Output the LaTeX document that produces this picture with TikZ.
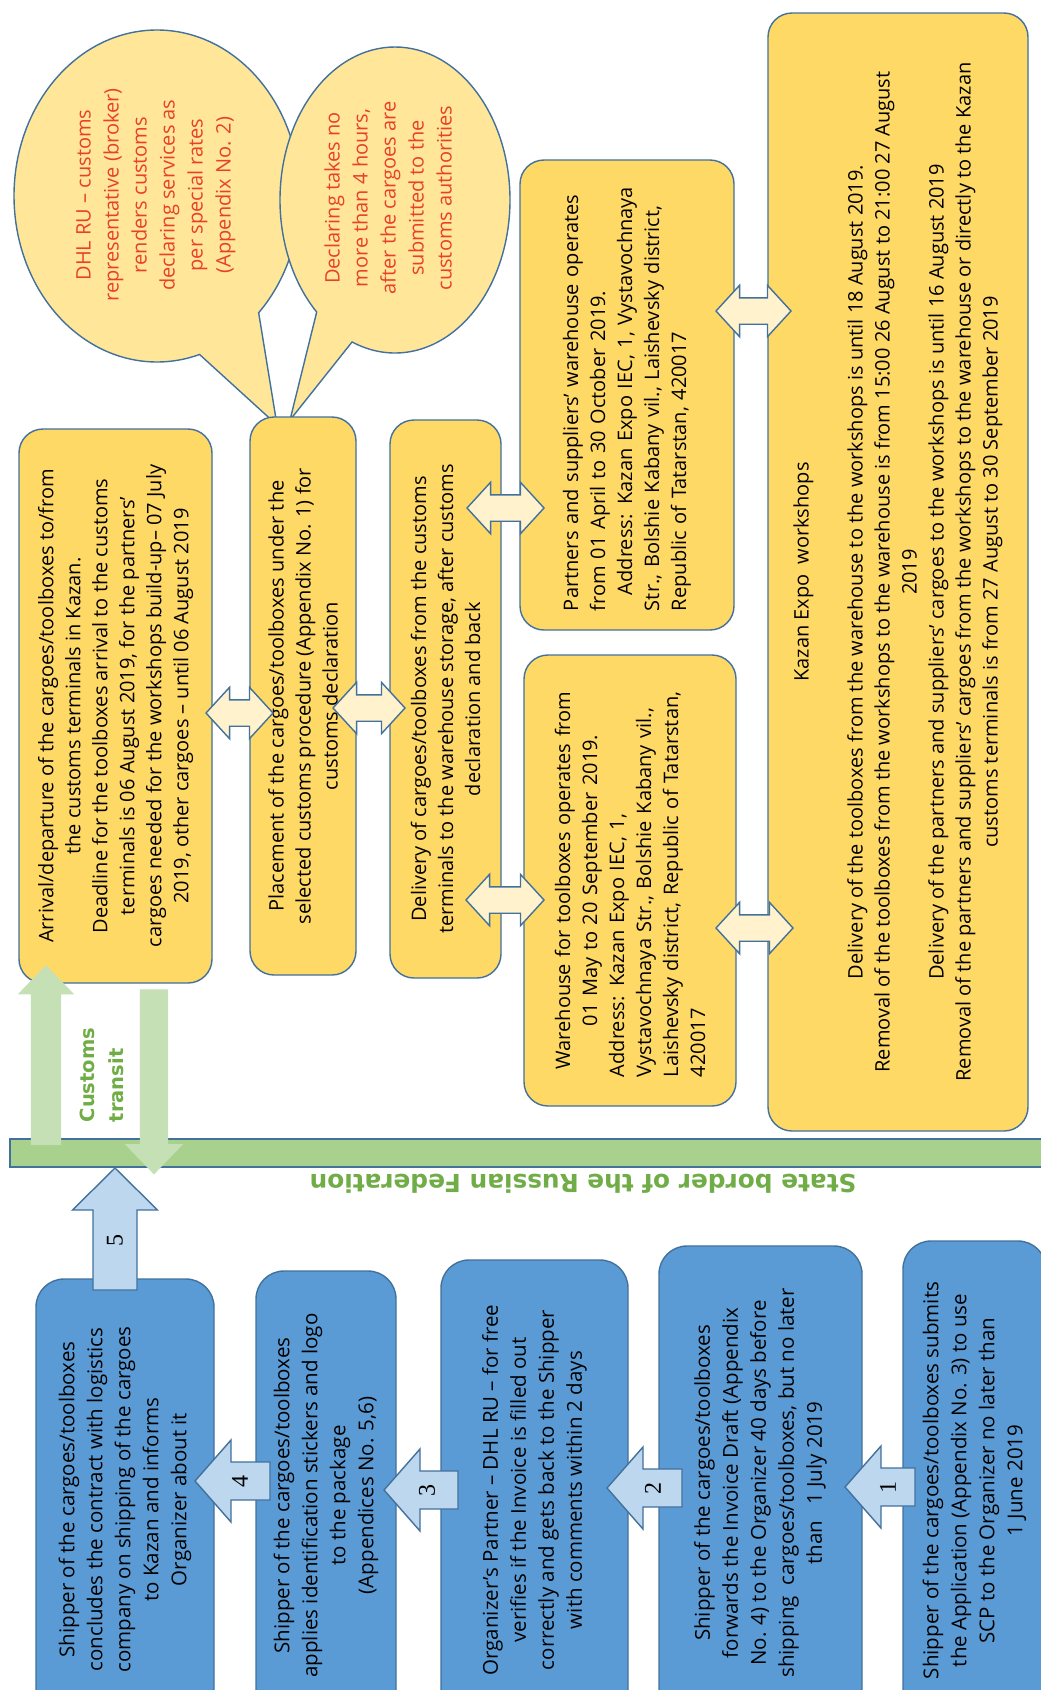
\documentclass[tikz,border=0pt]{standalone}
\usepackage{fontspec}
\setmainfont{Open Sans}
\newfontfamily\numfont{Liberation Serif}
\newfontfamily\greenfont{DejaVu Sans}
\usetikzlibrary{shapes.arrows,shapes.callouts,calc}

\definecolor{boxyellow}{HTML}{FFD966}
\definecolor{callyellow}{HTML}{FFE699}
\definecolor{paleyellow}{HTML}{FFF2CC}
\definecolor{edgeblue}{HTML}{41719C}
\definecolor{boxblue}{HTML}{5B9BD5}
\definecolor{paleblue}{HTML}{BDD7EE}
\definecolor{bordergreen}{HTML}{A9D18E}
\definecolor{transitgreen}{HTML}{C5E0B4}
\definecolor{textgreen}{HTML}{70AD47}
\definecolor{notered}{HTML}{E8402A}

\begin{document}
\begin{tikzpicture}[x=1pt, y=-1pt,
    ybox/.style={draw=edgeblue, fill=boxyellow, line width=1.4pt, rounded corners=24pt,
                 rotate=90, align=center, inner sep=0pt, font=\fontsize{20}{27}\selectfont},
    bbox/.style={draw=edgeblue, fill=boxblue, line width=1.4pt, rounded corners=28pt,
                 rotate=90, align=center, inner sep=0pt, font=\fontsize{20.5}{28}\selectfont},
    link/.style={double arrow, draw=edgeblue, fill=paleyellow, line width=1.4pt,
                 inner xsep=0pt, inner ysep=12.5pt, double arrow head extend=12.5pt,
                 double arrow tip angle=95},
    stepshape/.style={draw=edgeblue, fill=paleblue, line width=1.4pt, line join=miter},
    steplbl/.style={rotate=90, inner sep=0pt, font=\numfont\fontsize{24}{24}\selectfont},
    balloon/.style={ellipse callout, draw=edgeblue, fill=callyellow, line width=1.4pt, inner sep=0pt},
    note/.style={rotate=90, align=center, text=notered, font=\fontsize{20}{28}\selectfont},
    transit/.style={single arrow, fill=transitgreen, inner xsep=0pt, single arrow tip angle=88}]

\useasboundingbox (0,0) rectangle (1041,1690);
\clip (0,0) rectangle (1041,1690);
\fill[white] (0,0) rectangle (1041,1690);

% speech balloons
\node[balloon, minimum width=286pt, minimum height=332pt,
      callout absolute pointer={(277,425)}, callout pointer arc=28] (broker) at (157,196) {};
\node[balloon, minimum width=230pt, minimum height=306pt,
      callout absolute pointer={(290,420)}, callout pointer arc=21] (hours) at (395,200) {};
\node[note] (brokertxt) at (156,195) {DHL RU – customs\\representative (broker)\\renders customs\\declaring services as\\per special rates\\(Appendix No. 2)};
\node[note] (hourstxt) at (388,198) {Declaring takes no\\more than 4 hours,\\after the cargoes are\\submitted to the\\customs authorities};

% Kazan side
\node[ybox, minimum width=554pt, minimum height=193pt] (arrival) at (115.5,706)
  {Arrival/departure of the cargoes/toolboxes to/from\\the customs terminals in Kazan.\\Deadline for the toolboxes arrival to the customs\\terminals is 06 August 2019, for the partners'\\cargoes needed for the workshops build-up– 07 July\\2019, other cargoes – until 06 August 2019};
\node[ybox, minimum width=558pt, minimum height=106pt] (placement) at (303,696)
  {Placement of the cargoes/toolboxes under the\\selected customs procedure (Appendix No. 1) for\\customs declaration};
\node[ybox, minimum width=558pt, minimum height=111pt] (delivery) at (445.5,699)
  {Delivery of cargoes/toolboxes from the customs\\terminals to the warehouse storage, after customs\\declaration and back};
\node[ybox, minimum width=470pt, minimum height=214pt, align=left, text width=432pt] (partnerwh) at (627,395)
  {Partners and suppliers' warehouse operates\\from 01 April to 30 October 2019.\\\hspace*{16pt}\makebox[416pt][s]{Address: Kazan Expo IEC, 1, Vystavochnaya}\\\makebox[\hsize][s]{Str., Bolshie Kabany vil., Laishevsky district,}\\Republic of Tatarstan, 420017};
\node[ybox, minimum width=451pt, minimum height=212pt, text width=393pt] (toolwh) at (630,880.5)
  {Warehouse for toolboxes operates from\\01 May to 20 September 2019.\\\makebox[\hsize][s]{Address: Kazan Expo IEC, 1,}\\\makebox[\hsize][s]{Vystavochnaya Str., Bolshie Kabany vil.,}\\\makebox[\hsize][s]{Laishevsky district, Republic of Tatarstan,}\\\makebox[\hsize][l]{420017}};
\node[ybox, minimum width=1118pt, minimum height=260pt] (workshops) at (898,572)
  {Kazan Expo\enspace workshops\\[27pt]Delivery of the toolboxes from the warehouse to the workshops is until 18 August 2019.\\Removal of the toolboxes from the workshops to the warehouse is from 15:00 26 August to 21:00 27 August\\2019\\Delivery of the partners and suppliers' cargoes to the workshops is until 16 August 2019\\Removal of the partners and suppliers' cargoes from the workshops to the warehouse or directly to the Kazan\\customs terminals is from 27 August to 30 September 2019};

\node[link, minimum height=67pt] (l1) at (239.5,713) {};
\node[link, minimum height=72pt] (l2) at (369,708) {};
\node[link, minimum height=77pt] (l3) at (505.5,508) {};
\node[link, minimum height=78pt] (l4) at (505,900) {};
\node[link, minimum height=75pt] (l5) at (753.5,311) {};
\node[link, minimum height=77pt] (l6) at (754.5,928) {};

% the border
\node[draw=edgeblue, fill=bordergreen, line width=1.4pt, minimum width=1040pt,
      minimum height=28pt, inner sep=0pt] (border) at (530,1153) {};
\node[rotate=180, text=textgreen, font=\greenfont\bfseries\fontsize{24.8}{24.8}\selectfont] (borderlbl) at (583,1184)
  {State border of the Russian Federation};
\node[transit, rotate=90, minimum height=180pt, inner ysep=15pt, single arrow head extend=13pt] (transitin) at (46,1063) {};
\node[transit, rotate=-90, minimum height=185pt, inner ysep=14pt, single arrow head extend=15pt] (transitout) at (154,1074.5) {};
\node[rotate=90, align=left, text=textgreen, font=\greenfont\bfseries\fontsize{19.5}{29}\selectfont] (transitlbl) at (102,1075)
  {Customs\\transit};

% shipper side
\node[bbox, minimum width=441pt, minimum height=178pt] (contract) at (125,1499.5)
  {Shipper of the cargoes/toolboxes\\concludes the contract with logistics\\company on shipping of the cargoes\\to Kazan and informs\\Organizer about it};
\node[bbox, minimum width=449pt, minimum height=140pt] (stickers) at (326,1495.5)
  {Shipper of the cargoes/toolboxes\\applies identification stickers and logo\\to the package\\(Appendices No. 5,6)};
\node[bbox, minimum width=460pt, minimum height=187pt] (verify) at (534.5,1490)
  {Organizer's Partner – DHL RU – for free\\verifies if the Invoice is filled out\\correctly and gets back to the Shipper\\with comments within 2 days};
\node[bbox, minimum width=474pt, minimum height=203pt] (draft) at (760.5,1483)
  {Shipper of the cargoes/toolboxes\\forwards the Invoice Draft (Appendix\\No. 4) to the Organizer 40 days before\\shipping\ \ cargoes/toolboxes, but no later\\than\ \ \ 1 July 2019};
\node[bbox, minimum width=479pt, minimum height=143pt] (application) at (974.5,1480.5)
  {Shipper of the cargoes/toolboxes submits\\the Application (Appendix No. 3) to use\\SCP to the Organizer no later than\\1 June 2019};

% numbered steps
\coordinate (tip1) at (845,1487);
\coordinate (tip2) at (607,1488);
\coordinate (tip3) at (384,1490);
\coordinate (tip4) at (195,1481);
\coordinate (tip5) at (115,1168);
\draw[stepshape] (tip1) -- ++(36,-41) -- ++(0,22) -- ++(34,0) -- ++(0,38) -- ++(-34,0) -- ++(0,22) -- cycle;
\draw[stepshape] (tip2) -- ++(36,-41) -- ++(0,22) -- ++(39,0) -- ++(0,38) -- ++(-39,0) -- ++(0,22) -- cycle;
\draw[stepshape] (tip3) -- ++(36,-41) -- ++(0,22) -- ++(38,0) -- ++(0,38) -- ++(-38,0) -- ++(0,22) -- cycle;
\draw[stepshape] (tip4) -- ++(36,-41) -- ++(0,22) -- ++(39,0) -- ++(0,38) -- ++(-39,0) -- ++(0,22) -- cycle;
\draw[stepshape] (tip5) -- ++(-42.5,42) -- ++(20.5,0) -- ++(0,80) -- ++(44,0) -- ++(0,-80) -- ++(20.5,0) -- cycle;
\node[steplbl] (n1) at ($(tip1)+(43,0)$) {1};
\node[steplbl] (n2) at ($(tip2)+(46,0)$) {2};
\node[steplbl] (n3) at ($(tip3)+(43,0)$) {3};
\node[steplbl] (n4) at ($(tip4)+(45,0)$) {4};
\node[steplbl] (n5) at ($(tip5)+(0,72)$) {5};

\end{tikzpicture}
\end{document}
